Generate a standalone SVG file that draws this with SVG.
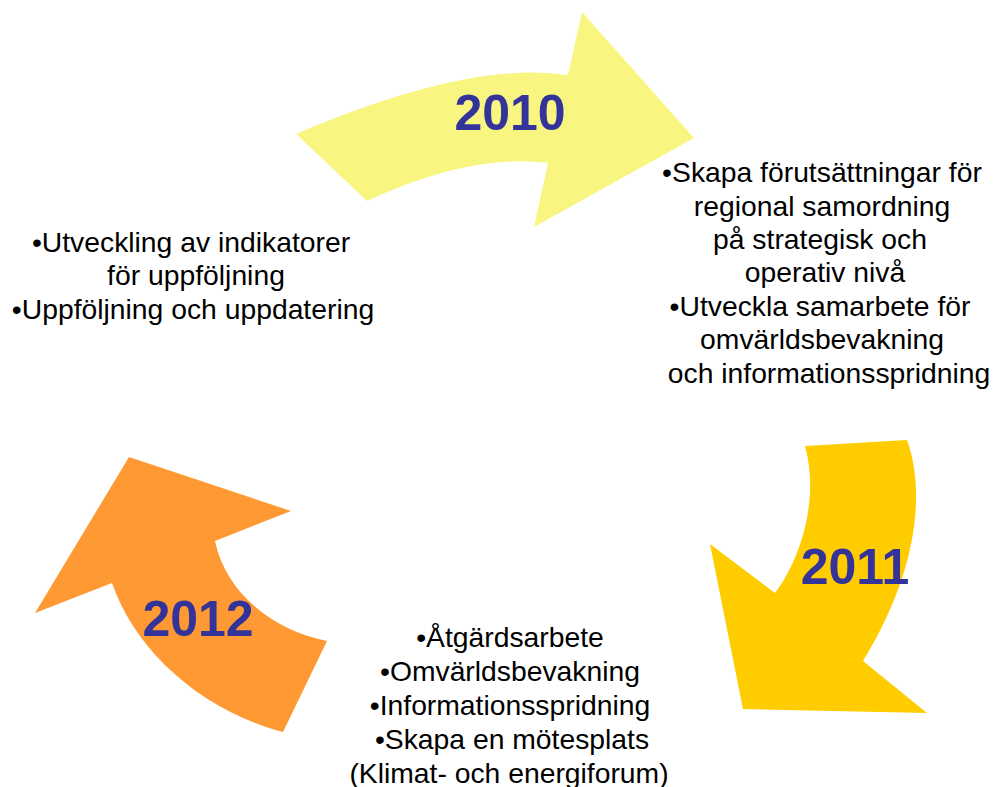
<svg xmlns="http://www.w3.org/2000/svg" width="994" height="787" viewBox="0 0 994 787">
<style>
.t{font-family:"Liberation Sans",Arial,sans-serif;font-size:28.3px;fill:#000;text-anchor:middle}
.y{font-family:"Liberation Sans",Arial,sans-serif;font-size:50px;font-weight:bold;fill:#333399;text-anchor:middle}
</style>
<rect width="994" height="787" fill="#fff"/>
<g id="arrow2010">
<path d="M296,134 Q470,60 568,75 L582,12 L694,138 L534,227 L548,163 Q470,153 367,201 Z" fill="#F8F680"/>
<text class="y" x="510" y="130">2010</text>
</g>
<g id="arrow2011">
<path d="M907,440 C922,480 925,560 863,661 L927,713 L743,709 L710,544 L775,593 C800,560 820,500 805,446 Z" fill="#FFCC00"/>
<text class="y" x="855" y="584">2011</text>
</g>
<g id="arrow2012">
<path d="M129,457 L291,511 L215,541 C225,590 270,630 327,641 L283,732 C200,710 135,650 112,583 L35,613 Z" fill="#FF9933"/>
<text class="y" x="198" y="636">2012</text>
</g>
<g id="text2010">
<text class="t" x="822" y="182">•Skapa förutsättningar för</text>
<text class="t" x="822" y="215.5">regional samordning</text>
<text class="t" x="820" y="249">på strategisk och</text>
<text class="t" x="825" y="282">operativ nivå</text>
<text class="t" x="820" y="316">•Utveckla samarbete för</text>
<text class="t" x="822" y="349">omvärldsbevakning</text>
<text class="t" x="829" y="383">och informationsspridning</text>
</g>
<g id="text2011">
<text class="t" x="510" y="647">•Åtgärdsarbete</text>
<text class="t" x="510" y="681">•Omvärldsbevakning</text>
<text class="t" x="510" y="715">•Informationsspridning</text>
<text class="t" x="512" y="749">•Skapa en mötesplats</text>
<text class="t" x="509" y="783">(Klimat- och energiforum)</text>
</g>
<g id="text2012">
<text class="t" x="191" y="252">•Utveckling av indikatorer</text>
<text class="t" x="196" y="285">för uppföljning</text>
<text class="t" x="193" y="319">•Uppföljning och uppdatering</text>
</g>
<g id="connectors"></g>
</svg>
